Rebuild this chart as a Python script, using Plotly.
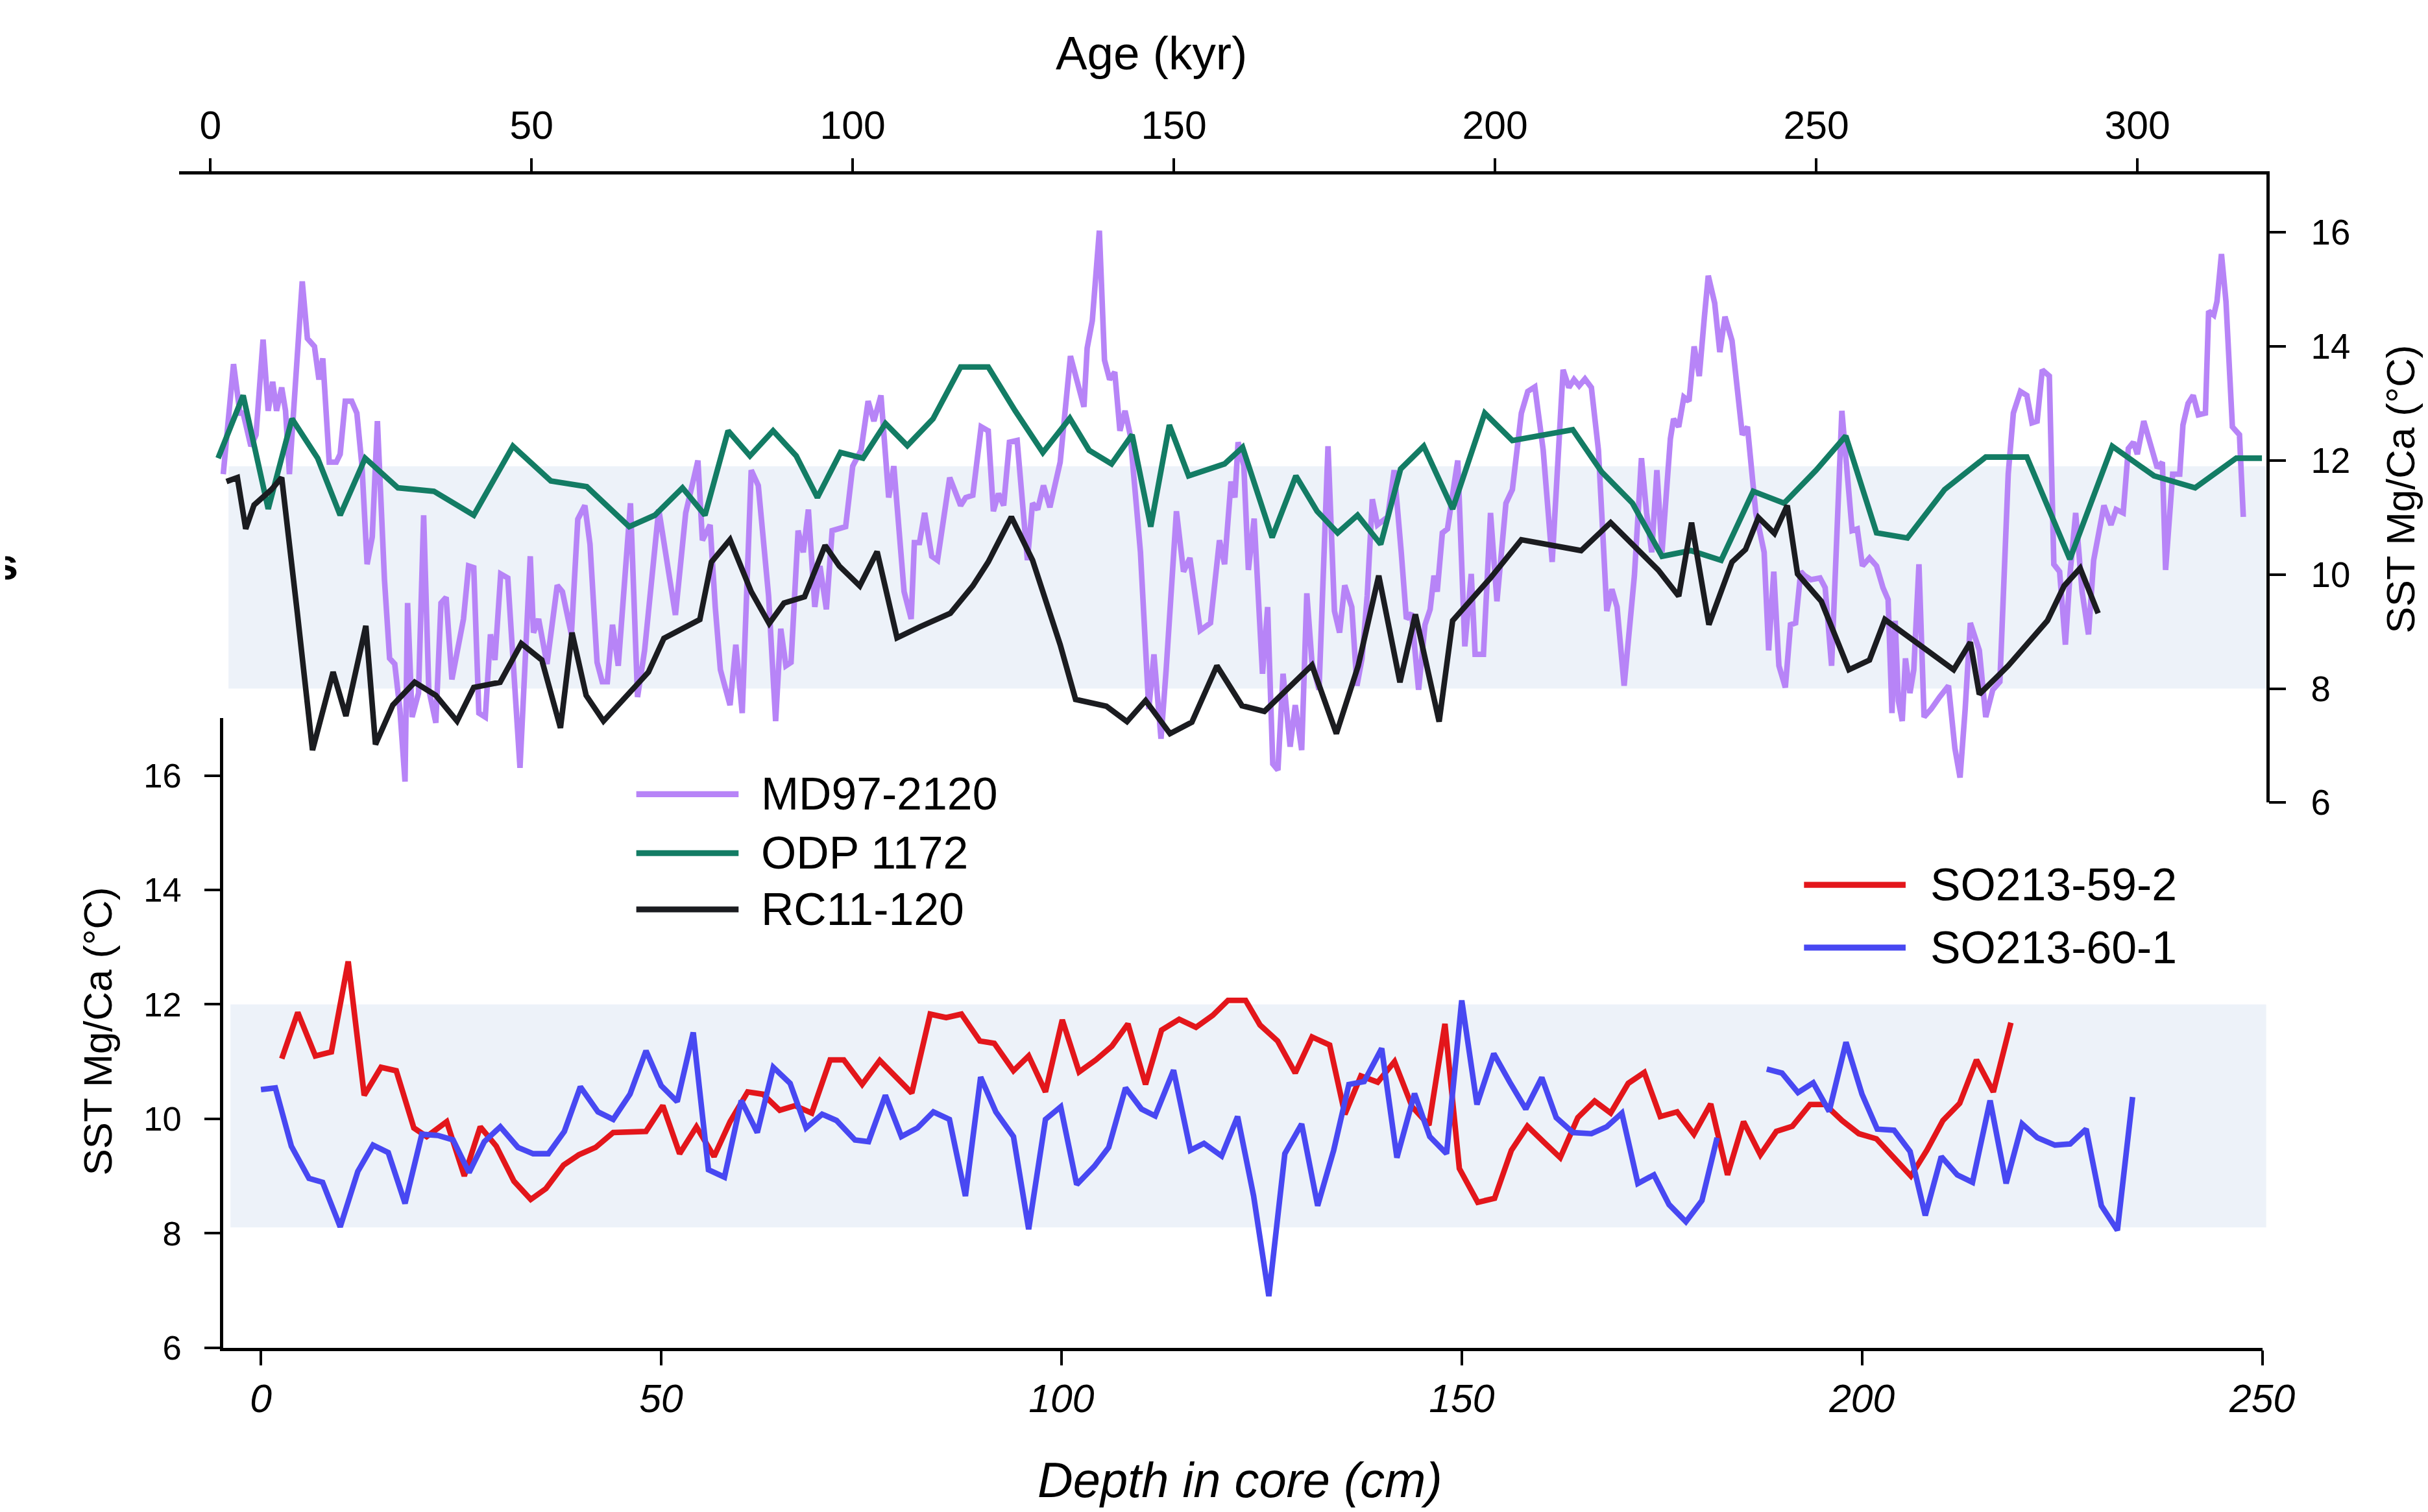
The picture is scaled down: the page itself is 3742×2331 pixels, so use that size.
import plotly.graph_objects as go

# The photographed page comes out ~1.1 % smaller than the figure size, so the figure
# is built K times larger; positions are given as fractions of the reference picture.
K = 1 / 0.989
REF_W, REF_H = 3742, 2331
WF, HF = round(REF_W * K), round(REF_H * K)
FONT = "Liberation Sans, Arial, sans-serif"

# ---------------- data ----------------
# Top panel: Age (kyr) vs SST Mg/Ca (degC)
md97_age = [2.0, 3.6, 4.6, 5.1, 6.3, 7.1, 8.2, 9.0, 9.7, 10.3, 11.1, 11.7, 12.3, 14.3, 15.1, 16.2, 16.9, 17.5,
            18.5, 19.6, 20.2, 21.0, 22.0, 22.8, 23.6, 24.4, 25.2, 26.0, 27.1, 27.9, 28.7, 29.5, 30.3, 30.7,
            31.4, 32.4, 33.2, 34.0, 35.1, 35.9, 36.7, 37.6, 39.4, 40.2, 41.0, 41.8, 42.8, 43.6, 44.3, 45.2,
            46.3, 48.2, 49.8, 50.3, 51.1, 52.4, 54.0, 54.8, 56.2, 57.2, 58.3, 59.1, 60.2, 61.0, 61.8, 62.6,
            63.5, 65.4, 66.5, 67.6, 69.8, 72.4, 74.0, 75.9, 76.6, 77.8, 78.6, 79.4, 80.9, 81.8, 82.8, 84.2,
            85.3, 86.9, 88.0, 88.8, 89.6, 90.4, 91.5, 92.3, 93.1, 94.1, 94.9, 95.9, 96.8, 98.9, 100.0, 101.3,
            102.4, 103.3, 104.4, 105.1, 105.6, 106.4, 108.0, 109.1, 109.6, 110.4, 111.2, 112.3, 113.2, 115.1,
            116.8, 117.6, 118.7, 120.0, 121.1, 121.9, 122.7, 123.5, 124.4, 125.6, 126.4, 127.2, 128.0, 128.8,
            129.7, 130.7, 132.3, 133.9, 136.0, 136.5, 137.3, 138.4, 139.2, 140.0, 140.8, 141.6, 142.4, 143.2,
            144.8, 146.1, 146.9, 148.0, 148.8, 150.4, 151.5, 152.5, 154.1, 155.7, 157.1, 157.9, 158.9, 159.5,
            160.0, 160.9, 161.6, 162.5, 163.3, 163.8, 164.6, 165.4, 166.2, 167.0, 168.1, 168.9, 169.9, 170.7,
            171.5, 172.6, 174.0, 175.0, 175.8, 176.6, 177.7, 178.5, 179.3, 180.1, 180.9, 181.7, 183.3, 184.3,
            185.4, 186.2, 187.0, 188.1, 189.1, 189.9, 190.5, 191.0, 191.8, 192.6, 193.7, 194.2, 195.3, 196.3,
            196.9, 198.2, 199.3, 200.3, 201.7, 202.7, 204.1, 205.1, 206.2, 207.5, 208.9, 210.6, 211.5, 212.3,
            213.1, 214.0, 215.0, 216.1, 216.9, 217.4, 218.2, 219.0, 220.1, 221.7, 222.8, 223.6, 224.4, 225.2,
            226.0, 227.3, 227.8, 228.6, 229.4, 230.2, 231.0, 231.8, 232.6, 233.2, 234.2, 235.0, 235.8, 236.9,
            238.5, 239.3, 240.6, 241.9, 242.6, 243.4, 244.2, 245.2, 246.0, 246.8, 247.6, 248.2, 249.2, 250.6,
            251.4, 252.4, 254.0, 254.8, 255.6, 256.4, 257.2, 258.3, 259.4, 260.4, 261.2, 261.8, 262.3, 262.8,
            263.4, 263.9, 264.6, 265.2, 266.0, 266.8, 267.9, 269.2, 270.6, 271.6, 272.4, 273.2, 274.0, 275.4,
            276.4, 277.5, 278.6, 279.9, 280.7, 281.8, 282.8, 283.6, 284.4, 285.2, 286.3, 287.0, 287.9, 288.8,
            289.5, 290.4, 291.4, 292.4, 293.2, 294.0, 294.8, 295.9, 296.7, 297.8, 298.6, 299.4, 300.0, 301.0,
            302.3, 303.1, 303.9, 304.4, 305.5, 306.6, 307.1, 307.9, 308.7, 309.5, 310.6, 311.1, 311.9, 312.4,
            313.1, 313.8, 314.8, 315.9, 316.5]
md97_sst = [11.76, 13.69, 12.83, 12.83, 12.25, 12.45, 14.12, 12.87, 13.38, 12.87, 13.28, 12.87, 11.76, 15.14,
            14.14, 14.00, 13.42, 13.79, 11.97, 11.97, 12.11, 13.04, 13.04, 12.83, 11.90, 10.18, 10.66, 12.69,
            9.91, 8.53, 8.43, 7.64, 6.37, 9.50, 7.50, 7.92, 11.04, 7.98, 7.40, 9.50, 9.60, 8.16, 9.22, 10.15,
            10.12, 7.57, 7.50, 8.95, 8.50, 10.01, 9.94, 6.61, 10.32, 8.98, 9.22, 8.43, 9.81, 9.70, 8.95, 10.97,
            11.21, 10.53, 8.46, 8.12, 8.12, 9.12, 8.40, 11.25, 7.85, 8.67, 11.14, 9.29, 11.08, 12.00, 10.60,
            10.87, 9.43, 8.33, 7.71, 8.77, 7.57, 11.83, 11.56, 9.63, 7.43, 9.05, 8.40, 8.46, 10.77, 10.39,
            11.14, 9.43, 10.15, 9.39, 10.77, 10.84, 11.90, 12.18, 13.04, 12.69, 13.14, 12.11, 11.35, 11.90,
            9.70, 9.22, 10.56, 10.56, 11.08, 10.32, 10.25, 11.70, 11.21, 11.35, 11.39, 12.59, 12.52, 11.11,
            11.42, 11.21, 12.32, 12.35, 11.39, 10.25, 11.25, 11.14, 11.56, 11.18, 11.97, 13.83, 12.94, 13.97,
            14.45, 16.03, 13.76, 13.42, 13.55, 12.52, 12.87, 12.45, 10.39, 7.64, 8.60, 7.12, 8.33, 11.11,
            10.05, 10.29, 9.02, 9.15, 10.60, 10.18, 11.63, 11.35, 12.32, 11.90, 10.08, 10.98, 9.29, 8.26,
            9.43, 6.68, 6.57, 8.26, 6.98, 7.71, 6.92, 9.67, 8.46, 7.98, 12.25, 9.36, 8.98, 9.81, 9.43, 8.05,
            8.53, 9.63, 11.32, 10.87, 11.01, 11.83, 10.39, 9.22, 9.32, 7.98, 9.12, 9.39, 9.98, 9.70, 10.73,
            10.80, 11.63, 12.00, 8.74, 10.01, 8.60, 8.60, 11.08, 9.53, 11.25, 11.49, 12.83, 13.21, 13.29,
            12.18, 10.22, 13.59, 13.28, 13.42, 13.31, 13.43, 13.28, 12.18, 10.46, 9.36, 9.74, 9.43, 8.05,
            9.98, 12.04, 11.08, 10.39, 11.83, 10.39, 12.38, 12.73, 12.59, 13.11, 13.04, 14.00, 13.48, 14.52,
            15.24, 14.76, 13.90, 14.52, 14.10, 12.45, 12.59, 11.08, 10.39, 8.67, 10.05, 8.40, 8.02, 9.12,
            9.15, 10.05, 9.98, 9.91, 9.94, 9.77, 8.40, 12.87, 11.76, 10.77, 10.80, 10.15, 10.29, 10.15, 9.77,
            9.56, 7.57, 9.19, 7.78, 7.43, 8.53, 7.92, 8.33, 10.18, 7.50, 7.64, 7.85, 8.05, 6.95, 6.44, 7.64,
            9.15, 8.67, 7.50, 7.98, 8.12, 11.76, 12.83, 13.21, 13.14, 12.66, 12.69, 13.59, 13.48, 10.18,
            10.05, 8.77, 9.98, 11.08, 9.70, 8.95, 10.25, 10.73, 11.21, 10.87, 11.14, 11.08, 12.21, 12.32,
            12.11, 12.69, 12.18, 11.87, 11.97, 10.08, 11.76, 11.76, 12.62, 13.00, 13.14, 12.80, 12.83, 14.62,
            14.55, 14.79, 15.62, 14.79, 12.59, 12.45, 11.01]

odp_age = [1.2, 5.1, 9.0, 12.7, 16.7, 20.2, 24.1, 29.2, 34.8, 41.0, 47.1, 53.0, 58.6, 65.2, 69.2, 73.5, 77.0,
           80.6, 84.0, 87.6, 91.2, 94.5, 98.1, 101.6, 105.1, 108.5, 112.5, 116.8, 121.1, 125.3, 129.6, 133.8,
           136.8, 140.3, 143.5, 146.4, 149.3, 152.3, 157.9, 160.7, 165.3, 169.0, 172.3, 175.5, 178.6, 182.2,
           185.3, 188.9, 193.4, 198.4, 202.7, 212.1, 216.6, 221.4, 226.0, 230.5, 235.2, 240.2, 245.0, 250.0,
           254.6, 259.4, 264.2, 270.0, 276.4, 282.8, 289.5, 296.1, 302.6, 309.0, 315.4, 319.4]
odp_sst = [12.04, 13.14, 11.15, 12.73, 12.04, 11.04, 12.04, 11.52, 11.46, 11.04, 12.25, 11.64, 11.54, 10.84,
           11.04, 11.52, 11.04, 12.52, 12.08, 12.52, 12.08, 11.35, 12.14, 12.04, 12.65, 12.26, 12.73, 13.64,
           13.64, 12.87, 12.14, 12.74, 12.18, 11.94, 12.45, 10.84, 12.62, 11.73, 11.94, 12.23, 10.65, 11.73,
           11.11, 10.73, 11.04, 10.53, 11.85, 12.25, 11.15, 12.83, 12.35, 12.54, 11.80, 11.25, 10.32, 10.42,
           10.25, 11.46, 11.25, 11.83, 12.43, 10.73, 10.64, 11.49, 12.06, 12.06, 10.27, 12.25, 11.73, 11.52,
           12.04, 12.04]

rc11_age = [2.5, 4.2, 5.5, 6.8, 9.5, 11.1, 13.5, 15.9, 19.1, 21.1, 24.2, 25.7, 28.4, 31.8, 35.1, 38.4, 41.0,
            45.1, 48.4, 51.6, 54.5, 56.3, 58.5, 61.2, 68.2, 70.6, 76.2, 78.0, 80.9, 84.2, 87.0, 89.3, 92.5,
            95.7, 97.9, 101.1, 103.8, 106.9, 110.4, 115.2, 118.7, 121.1, 124.7, 128.0, 132.3, 134.7, 139.5,
            142.7, 145.6, 149.4, 152.8, 156.7, 160.6, 164.1, 171.5, 175.3, 178.7, 181.9, 185.2, 187.6, 191.3,
            193.4, 199.3, 204.1, 213.4, 218.0, 225.4, 228.6, 230.6, 233.3, 236.9, 239.0, 241.0, 243.5, 245.5,
            247.1, 250.8, 255.1, 258.3, 260.7, 271.4, 274.0, 275.4, 279.9, 286.0, 288.6, 291.1, 293.9]
rc11_sst = [11.63, 11.70, 10.80, 11.22, 11.49, 11.70, 9.36, 6.92, 8.29, 7.52, 9.10, 7.02, 7.71, 8.11, 7.88,
            7.43, 8.02, 8.11, 8.79, 8.50, 7.31, 8.98, 7.88, 7.43, 8.29, 8.88, 9.21, 10.22, 10.61, 9.70, 9.14,
            9.50, 9.61, 10.51, 10.15, 9.80, 10.40, 8.89, 9.08, 9.32, 9.80, 10.22, 11.01, 10.25, 8.77, 7.81,
            7.69, 7.42, 7.79, 7.21, 7.41, 8.40, 7.70, 7.60, 8.41, 7.21, 8.40, 9.98, 8.11, 9.30, 7.42, 9.19,
            9.94, 10.61, 10.42, 10.91, 10.08, 9.62, 10.91, 9.12, 10.22, 10.44, 11.00, 10.72, 11.21, 10.01,
            9.53, 8.33, 8.50, 9.21, 8.33, 8.81, 7.90, 8.40, 9.19, 9.80, 10.11, 9.32]

# Bottom panel: Depth in core (cm) vs SST Mg/Ca (degC)
so59_depth = [2.6, 4.6, 6.8, 8.8, 10.9, 12.9, 15.0, 16.9, 19.1, 20.7, 23.2, 25.4, 27.4, 29.4, 31.6, 33.7, 35.6,
              37.8, 39.7, 41.8, 44.0, 46.2, 48.1, 50.2, 52.3, 54.4, 56.6, 58.6, 60.8, 62.7, 64.8, 66.7, 68.8,
              71.1, 72.8, 75.1, 77.3, 81.3, 83.6, 85.6, 87.5, 89.8, 91.6, 94.0, 95.9, 98.0, 100.1, 102.2, 104.3,
              106.3, 108.3, 110.5, 112.5, 114.7, 116.8, 118.9, 120.8, 123.0, 124.8, 127.0, 129.2, 131.3, 133.5,
              135.4, 137.4, 139.5, 141.6, 143.8, 145.9, 147.9, 149.7, 152.0, 154.1, 156.2, 158.2, 160.2, 162.3,
              164.5, 166.6, 168.6, 170.8, 172.8, 174.8, 176.9, 179.0, 181.1, 183.2, 185.2, 187.3, 189.3, 191.3,
              193.5, 195.4, 197.5, 199.6, 201.8, 204.1, 206.1, 208.1, 210.1, 212.2, 214.3, 216.4, 218.6]
so59_sst = [11.05, 11.86, 11.10, 11.17, 12.75, 10.41, 10.90, 10.84, 9.84, 9.69, 9.95, 9.00, 9.86, 9.52, 8.91,
            8.59, 8.78, 9.19, 9.37, 9.50, 9.76, 9.76, 9.78, 10.23, 9.39, 9.86, 9.34, 9.95, 10.47, 10.43, 10.15,
            10.23, 10.10, 11.03, 11.03, 10.60, 11.02, 10.45, 11.83, 11.77, 11.83, 11.36, 11.32, 10.84, 11.10,
            10.47, 11.73, 10.82, 11.03, 11.27, 11.66, 10.60, 11.55, 11.74, 11.60, 11.81, 12.07, 12.07, 11.64,
            11.36, 10.80, 11.43, 11.29, 10.08, 10.75, 10.64, 11.00, 10.21, 9.89, 11.66, 9.13, 8.54, 8.61, 9.45,
            9.87, 9.60, 9.32, 10.02, 10.31, 10.10, 10.62, 10.81, 10.04, 10.12, 9.73, 10.26, 9.02, 9.95, 9.37,
            9.78, 9.87, 10.25, 10.25, 9.97, 9.74, 9.65, 9.32, 9.00, 9.45, 9.97, 10.27, 11.03, 10.47, 11.68]

# None marks the gap in the SO213-60-1 record
so60_depth = [0.0, 1.8, 3.8, 6.0, 7.7, 9.9, 12.1, 14.0, 15.9, 18.0, 20.1, 22.1, 24.0, 26.0, 27.9, 29.9, 32.1,
              34.0, 35.9, 37.9, 39.9, 42.1, 44.0, 46.1, 48.1, 50.0, 52.0, 54.0, 55.9, 57.9, 60.0, 62.0, 64.0,
              66.1, 68.1, 70.1, 71.9, 74.2, 75.9, 78.0, 80.0, 82.0, 84.0, 86.0, 88.0, 89.9, 91.8, 94.0, 95.9,
              98.0, 99.9, 101.9, 104.1, 105.9, 108.0, 110.0, 111.7, 114.0, 116.1, 117.8, 120.0, 122.0, 124.0,
              125.9, 127.9, 130.0, 132.0, 134.0, 135.9, 137.8, 140.0, 141.9, 144.1, 146.0, 148.1, 150.0, 151.9,
              154.0, 156.0, 158.0, 160.0, 161.8, 163.9, 166.2, 168.1, 170.0, 172.0, 174.0, 175.9, 178.0, 180.0,
              181.9, None, 188.1, 190.0, 192.0, 193.9, 195.9, 198.0, 200.0, 201.9, 204.0, 206.0, 207.9, 209.9,
              211.9, 213.8, 216.0, 218.0, 220.0, 221.9, 224.1, 226.0, 228.0, 229.9, 231.9, 233.8]
so60_sst = [10.51, 10.54, 9.52, 8.96, 8.89, 8.11, 9.08, 9.54, 9.41, 8.52, 9.73, 9.71, 9.63, 9.06, 9.60, 9.86,
            9.50, 9.39, 9.39, 9.78, 10.56, 10.12, 9.99, 10.43, 11.19, 10.58, 10.30, 11.51, 9.11, 8.98, 10.32,
            9.76, 10.90, 10.62, 9.84, 10.08, 9.97, 9.63, 9.60, 10.41, 9.69, 9.84, 10.12, 9.99, 8.65, 10.73,
            10.12, 9.69, 8.07, 9.99, 10.21, 8.85, 9.17, 9.50, 10.54, 10.17, 10.05, 10.85, 9.45, 9.57, 9.35,
            10.04, 8.65, 6.90, 9.39, 9.91, 8.48, 9.45, 10.60, 10.65, 11.23, 9.32, 10.44, 9.69, 9.39, 12.07,
            10.25, 11.14, 10.64, 10.17, 10.72, 10.02, 9.76, 9.74, 9.86, 10.10, 8.87, 9.02, 8.50, 8.20, 8.57,
            9.67, None, 10.87, 10.80, 10.46, 10.63, 10.13, 11.34, 10.43, 9.82, 9.80, 9.43, 8.31, 9.34, 9.02,
            8.89, 10.32, 8.87, 9.91, 9.67, 9.54, 9.56, 9.82, 8.48, 8.05, 10.38]

# Shaded SST bands (degC)
band_top = [8.0, 11.9]
band_bottom = [8.1, 12.0]

age_ticks = [0, 50, 100, 150, 200, 250, 300]
depth_ticks = [0, 50, 100, 150, 200, 250]
sst_ticks = [6, 8, 10, 12, 14, 16]

names_top = ["MD97-2120", "ODP 1172", "RC11-120"]
names_bottom = ["SO213-59-2", "SO213-60-1"]

C_PURPLE = "#B784F7"
C_GREEN = "#137C64"
C_BLACK = "#1B1C20"
C_RED = "#E3161B"
C_BLUE = "#4848F2"
C_BAND = "#EDF2F9"


def s(v):
    """reference pixel size -> figure pixel size"""
    return v * K


def si(v):
    return int(round(v * K))


def px(x):
    """reference-image x pixel -> paper fraction"""
    return x / REF_W


def py(y):
    """reference-image y pixel -> paper fraction"""
    return 1 - y / REF_H


LW = s(8.5)

fig = go.Figure()

# bottom panel traces
fig.add_trace(go.Scatter(x=so59_depth, y=so59_sst, mode="lines", name=names_bottom[0],
                         line=dict(color=C_RED, width=LW), xaxis="x", yaxis="y", connectgaps=False))
fig.add_trace(go.Scatter(x=so60_depth, y=so60_sst, mode="lines", name=names_bottom[1],
                         line=dict(color=C_BLUE, width=LW), xaxis="x", yaxis="y", connectgaps=False))
# top panel traces
fig.add_trace(go.Scatter(x=md97_age, y=md97_sst, mode="lines", name=names_top[0],
                         line=dict(color=C_PURPLE, width=LW), xaxis="x2", yaxis="y2"))
fig.add_trace(go.Scatter(x=odp_age, y=odp_sst, mode="lines", name=names_top[1],
                         line=dict(color=C_GREEN, width=LW), xaxis="x2", yaxis="y2"))
fig.add_trace(go.Scatter(x=rc11_age, y=rc11_sst, mode="lines", name=names_top[2],
                         line=dict(color=C_BLACK, width=LW), xaxis="x2", yaxis="y2"))

shapes = [
    dict(type="rect", xref="paper", yref="y2", x0=px(345), x1=px(3493), y0=band_top[0], y1=band_top[1],
         fillcolor=C_BAND, line=dict(width=0), layer="below"),
    dict(type="rect", xref="paper", yref="y", x0=px(348), x1=px(3493), y0=band_bottom[0], y1=band_bottom[1],
         fillcolor=C_BAND, line=dict(width=0), layer="below"),
]

annotations = []
# legends (drawn manually to get long line samples)
leg1_y = [1219, 1310, 1397]
leg1_col = [C_PURPLE, C_GREEN, C_BLACK]
for nm, yy, cc in zip(names_top, leg1_y, leg1_col):
    shapes.append(dict(type="line", xref="paper", yref="paper", x0=px(975), x1=px(1133), y0=py(yy), y1=py(yy),
                       line=dict(color=cc, width=s(9))))
    annotations.append(dict(text=nm, xref="paper", yref="paper", x=px(1166), y=py(yy), xanchor="left",
                            yanchor="middle", showarrow=False, font=dict(family=FONT, size=s(69), color="black")))
leg2_y = [1359, 1456]
leg2_col = [C_RED, C_BLUE]
for nm, yy, cc in zip(names_bottom, leg2_y, leg2_col):
    shapes.append(dict(type="line", xref="paper", yref="paper", x0=px(2779), x1=px(2936), y0=py(yy), y1=py(yy),
                       line=dict(color=cc, width=s(9))))
    annotations.append(dict(text=nm, xref="paper", yref="paper", x=px(2972), y=py(yy), xanchor="left",
                            yanchor="middle", showarrow=False, font=dict(family=FONT, size=s(69), color="black")))

# axis titles
annotations += [
    dict(text="Age (kyr)", xref="paper", yref="paper", x=px(1771), y=py(74), xanchor="center", yanchor="middle",
         showarrow=False, font=dict(family=FONT, size=s(72), color="black")),
    dict(text="SST Mg/Ca (°C)", xref="paper", yref="paper", x=px(3700), y=py(748), xanchor="center",
         yanchor="middle", textangle=-90, showarrow=False, font=dict(family=FONT, size=s(61), color="black")),
    dict(text="SST Mg/Ca (°C)", xref="paper", yref="paper", x=px(143), y=py(1585), xanchor="center",
         yanchor="middle", textangle=-90, showarrow=False, font=dict(family=FONT, size=s(61), color="black")),
    dict(text="Depth in core (cm)", xref="paper", yref="paper", x=px(1908), y=py(2278), xanchor="center",
         yanchor="middle", showarrow=False, font=dict(family=FONT, size=s(75), color="black", style="italic")),
    dict(text="<b>s</b>", xref="paper", yref="paper", x=px(22), y=py(864), xanchor="right", yanchor="middle",
         showarrow=False, font=dict(family=FONT, size=s(66), color="black")),
]

axis_common = dict(showline=True, linecolor="black", linewidth=s(4.5), ticks="outside", tickcolor="black",
                   tickwidth=s(4), showgrid=False, zeroline=False, fixedrange=True)

fig.update_layout(
    width=WF, height=HF, autosize=False,
    margin=dict(l=0, r=0, t=0, b=0, pad=0),
    paper_bgcolor="white", plot_bgcolor="rgba(0,0,0,0)",
    showlegend=False,
    font=dict(family=FONT, color="black"),
    xaxis=dict(domain=[px(337), px(3487)], range=[-4.7, 250], anchor="y", side="bottom",
               tickvals=depth_ticks, ticklen=s(22), ticklabelstandoff=0,
               tickfont=dict(family=FONT, size=s(60), style="italic"), **axis_common),
    yaxis=dict(domain=[py(2074), py(1101)], range=[6, 17.01], anchor="x", side="left",
               tickvals=sst_ticks, ticklen=s(24), ticklabelstandoff=si(25),
               tickfont=dict(family=FONT, size=s(52)), **axis_common),
    xaxis2=dict(domain=[px(269), px(3493)], range=[-4.84, 320.06], anchor="y2", side="top",
                tickvals=age_ticks, ticklen=s(20), ticklabelstandoff=si(6),
                tickfont=dict(family=FONT, size=s(60)), **axis_common),
    yaxis2=dict(domain=[py(1232), py(262)], range=[6, 17.01], anchor="x2", side="right",
                tickvals=sst_ticks, ticklen=s(25), ticklabelstandoff=si(28),
                tickfont=dict(family=FONT, size=s(54)), **axis_common),
    shapes=shapes,
    annotations=annotations,
)

fig.write_html("out.html")
